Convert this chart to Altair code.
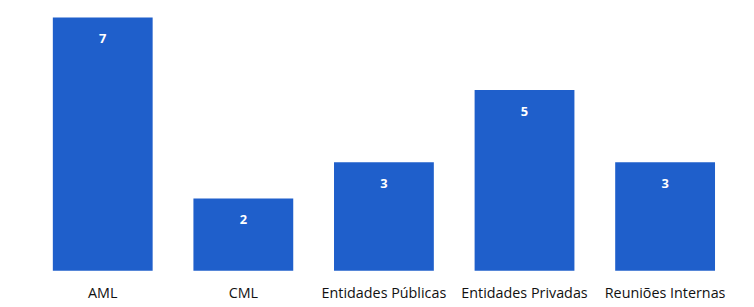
import altair as alt
import pandas as pd

categories = ["AML", "CML", "Entidades Públicas", "Entidades Privadas", "Reuniões Internas"]
values = [7, 2, 3, 5, 3]

df = pd.DataFrame({"cat": categories, "val": values})

x = alt.X("cat:N", sort=categories, title=None,
          scale=alt.Scale(paddingInner=0.29, paddingOuter=0.15),
          axis=alt.Axis(labelAngle=0, domain=False, ticks=False, labelPadding=16,
                        labelFont="Open Sans", labelFontSize=14.5, labelColor="#111111"))
y = alt.Y("val:Q", title=None, scale=alt.Scale(domain=[0, 7], nice=False),
          axis=None)

bars = alt.Chart(df).mark_bar(color="#1f5fcb").encode(x=x, y=y)
text = alt.Chart(df).mark_text(color="white", fontWeight="bold", fontSize=13,
                               font="Open Sans", baseline="middle", dy=22).encode(
    x=x, y=y, text="val:Q")

chart = (bars + text).properties(
    width=712, height=256,
    autosize=alt.AutoSizeParams(type="none"),
    padding={"left": 24, "top": 8, "right": 10, "bottom": 35},
).configure_view(stroke=None)

chart.save("out.html", embed_options={"renderer": "svg", "actions": False})
